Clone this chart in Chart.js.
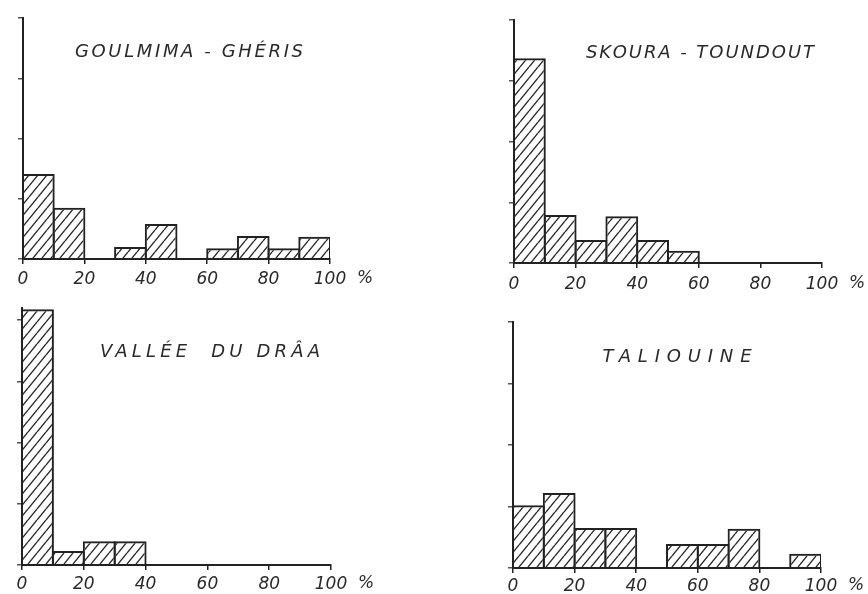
<!DOCTYPE html>
<html lang="fr">
<head>
<meta charset="UTF-8">
<title>Histogrammes par zone</title>
<style>
  body { margin: 0; background: #fff; }
  #page { position: relative; width: 868px; height: 594px; overflow: hidden; background: #fff; }
  #page canvas { position: absolute; }
</style>
<script src="https://cdn.jsdelivr.net/npm/chart.js"></script>
</head>
<body>
<div id="page"></div>
<script>
// classes de 10 % (bord gauche de chaque classe)
const bins = [0, 10, 20, 30, 40, 50, 60, 70, 80, 90];
const xTicks = [0, 20, 40, 60, 80, 100];

// hauteurs (1 unité = 1 graduation de l'axe vertical)
const goulmima  = [1.41, 0.85, 0, 0.20, 0.58, 0, 0.18, 0.38, 0.18, 0.37];
const skoura    = [3.37, 0.79, 0.38, 0.77, 0.38, 0.20, 0, 0, 0, 0];
const draa      = [4.18, 0.23, 0.39, 0.39, 0, 0, 0, 0, 0, 0];
const taliouine = [1.02, 1.22, 0.65, 0.65, 0, 0.39, 0.39, 0.64, 0, 0.23];

const titles = ['GOULMIMA - GHÉRIS', 'SKOURA - TOUNDOUT', 'VALLÉE  DU DRÂA', 'TALIOUINE'];

// placement of each panel on the page (axis origin, extent, title spot)
const panels = [
  { values: goulmima,  title: titles[0], x0: 23,  x1: 330, top: 18,  base: 259, yMax: 4,   tx: 189, ty: 52,  tw: 228, pad: 5 },
  { values: skoura,    title: titles[1], x0: 514, x1: 822, top: 20,  base: 263, yMax: 4,   tx: 700, ty: 53,  tw: 228, pad: 6 },
  { values: draa,      title: titles[2], x0: 22,  x1: 331, top: 308, base: 565, yMax: 4.2, tx: 210, ty: 352, tw: 220, pad: 4 },
  { values: taliouine, title: titles[3], x0: 513, x1: 821, top: 322, base: 568, yMax: 4,   tx: 677, ty: 357, tw: 149, pad: 3 }
];

const INK = '#222';
const PAD_L = 4, Y_W = 8, PAD_T = 8, PAD_R = 48, X_H = 32;

// diagonal hatching "/"
function hatch() {
  const w = 9, h = 11;
  const c = document.createElement('canvas');
  c.width = w; c.height = h;
  const g = c.getContext('2d');
  g.strokeStyle = '#2a2a2a';
  g.lineWidth = 1.4;
  g.beginPath();
  for (const dx of [-w, 0, w]) {
    g.moveTo(dx, h); g.lineTo(dx + w, 0);
  }
  g.stroke();
  return g.createPattern(c, 'repeat');
}

const panelText = {
  id: 'panelText',
  afterDraw(chart, args, opts) {
    const ctx = chart.ctx;
    ctx.save();
    ctx.fillStyle = '#2a2a2a';
    ctx.textAlign = 'left';
    ctx.textBaseline = 'middle';
    ctx.font = 'italic 18px "DejaVu Sans"';
    ctx.letterSpacing = '0px';
    const n = opts.title.length;
    const natural = ctx.measureText(opts.title).width;
    const sp = Math.max(0, (opts.tw - natural) / (n - 1));
    ctx.letterSpacing = sp + 'px';
    ctx.fillText(opts.title, opts.tx - opts.tw / 2, opts.ty);
    ctx.letterSpacing = '0px';
    ctx.font = 'italic 17px "DejaVu Sans"';
    ctx.textAlign = 'center';
    const xs = chart.scales.x;
    ctx.fillText('%', xs.getPixelForValue(100) + 35, xs.top + 5 + opts.pad + 10);
    ctx.restore();
  }
};

const page = document.getElementById('page');
const pattern = hatch();

panels.forEach(p => {
  const cv = document.createElement('canvas');
  const left = p.x0 - PAD_L - Y_W;
  const top = p.top - PAD_T;
  const w = (p.x1 - p.x0) + PAD_L + Y_W + PAD_R;
  const h = (p.base - p.top) + PAD_T + X_H;
  cv.style.left = left + 'px';
  cv.style.top = top + 'px';
  cv.style.width = w + 'px';
  cv.style.height = h + 'px';
  cv.width = w; cv.height = h;
  page.appendChild(cv);

  const binPx = (p.x1 - p.x0) / 10;

  new Chart(cv, {
    type: 'bar',
    data: {
      datasets: [{
        data: bins.map((b, i) => ({ x: b + 5, y: p.values[i] })),
        backgroundColor: pattern,
        borderColor: INK,
        borderWidth: 2,
        // widen by one border so neighbouring bars share a single edge
        barPercentage: (binPx + 2) / binPx,
        categoryPercentage: 1
      }]
    },
    options: {
      responsive: false,
      animation: false,
      layout: { padding: { left: PAD_L, top: PAD_T, right: PAD_R, bottom: 0 } },
      plugins: {
        legend: { display: false },
        tooltip: { enabled: false },
        panelText: { title: p.title, tx: p.tx - left, ty: p.ty - top, tw: p.tw, pad: p.pad }
      },
      scales: {
        x: {
          type: 'linear',
          min: 0, max: 100,
          offset: false,
          afterBuildTicks: s => { s.ticks = xTicks.map(v => ({ value: v })); },
          afterFit: s => { s.height = X_H; },
          grid: { offset: false, drawOnChartArea: false, color: INK, lineWidth: 1.5, tickLength: 5 },
          border: { display: true, color: INK, width: 2 },
          ticks: {
            color: '#2a2a2a',
            font: { family: 'DejaVu Sans', size: 17, style: 'italic' },
            padding: p.pad,
            maxRotation: 0,
            callback: v => String(v)
          }
        },
        y: {
          min: 0, max: p.yMax,
          afterBuildTicks: s => {
            const t = [];
            for (let v = 0; v <= Math.floor(p.yMax); v++) t.push({ value: v });
            s.ticks = t;
          },
          afterFit: s => { s.width = Y_W; },
          grid: { drawOnChartArea: false, color: '#555', lineWidth: 1.5, tickLength: 5 },
          border: { display: true, color: INK, width: 2 },
          ticks: { display: false }
        }
      }
    },
    plugins: [panelText]
  });
});
</script>
</body>
</html>
